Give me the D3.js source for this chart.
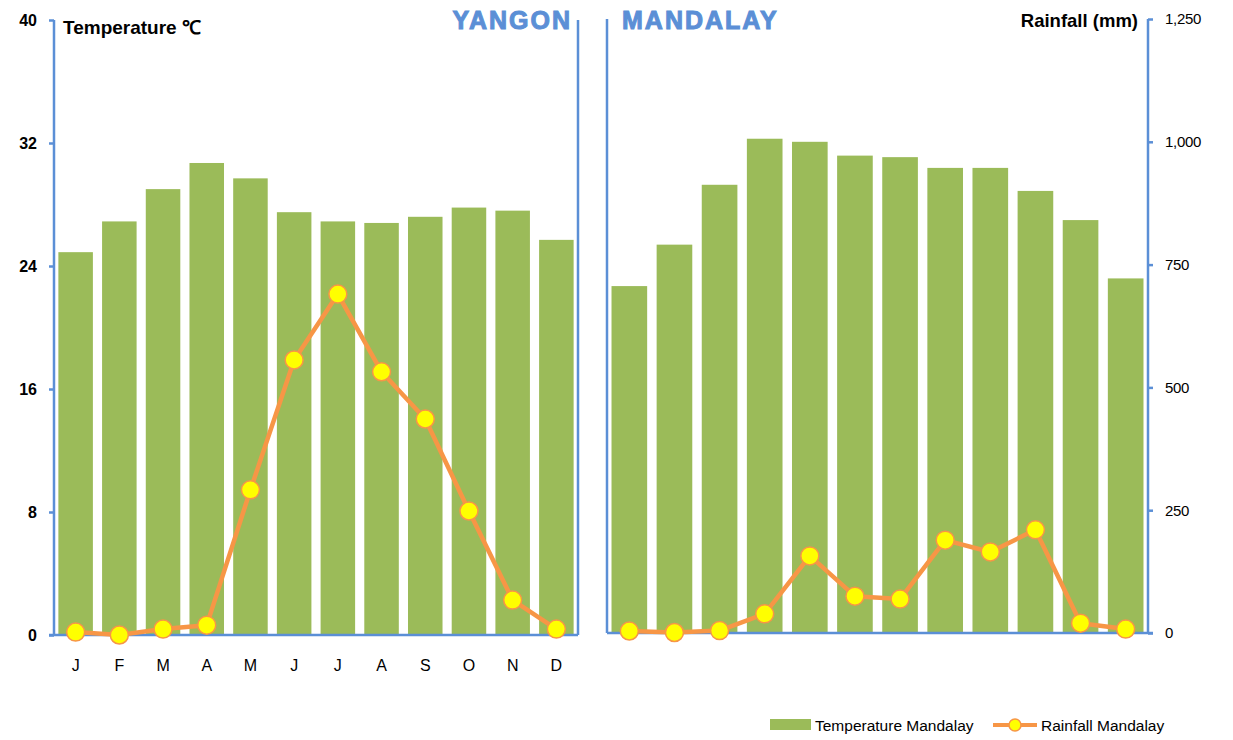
<!DOCTYPE html>
<html>
<head>
<meta charset="utf-8">
<script src="https://cdn.jsdelivr.net/npm/d3@7"></script>
<style>
  body { margin: 0; background: #fff; }
  svg { display: block; font-family: "Liberation Sans", Arial, sans-serif; }
</style>
</head>
<body>
<div class="container"></div>
<script>
const months = ['J', 'F', 'M', 'A', 'M', 'J', 'J', 'A', 'S', 'O', 'N', 'D'],
    tempYangon = [24.9, 26.9, 29.0, 30.7, 29.7, 27.5, 26.9, 26.8, 27.2, 27.8, 27.6, 25.7],
    rainYangon = [6, 0, 12, 20, 295, 559, 693, 535, 439, 252, 71, 12],
    tempMandalay = [22.6, 25.3, 29.2, 32.2, 32.0, 31.1, 31.0, 30.3, 30.3, 28.8, 26.9, 23.1],
    rainMandalay = [4, 1, 5, 39, 157, 75, 69, 189, 165, 210, 20, 8],
    tempTicks = [0, 8, 16, 24, 32, 40],
    rainTicks = [0, 250, 500, 750, 1000, 1250];

const W = 1233, H = 740,
    blue = '#5b8fd6', green = '#9bbb59', orange = '#f79646', yellow = '#ffff00';

const svg = d3.select('.container')
    .append('svg')
    .attr('width', W)
    .attr('height', H);

const idx = d3.range(12);

const drawPanel = (p) => {
    const x = d3.scaleBand()
        .domain(idx)
        .range([p.left, p.right])
        .paddingInner(0.21)
        .paddingOuter(0.1);

    const yT = d3.scaleLinear().domain([0, 40]).range([p.bottom, p.top]);
    const yR = d3.scaleLinear().domain([0, 1250]).range([p.bottom, p.top]);

    svg.append('g')
        .selectAll('rect')
        .data(p.temp)
        .join('rect')
        .attr('x', (d, i) => x(i))
        .attr('width', x.bandwidth())
        .attr('y', d => yT(d))
        .attr('height', d => yT(0) - yT(d))
        .attr('fill', green);

    // frame lines
    const g = svg.append('g').attr('stroke', blue).attr('stroke-width', 2.5).attr('fill', 'none');
    g.append('line').attr('x1', p.left).attr('x2', p.left).attr('y1', p.top).attr('y2', p.bottom);
    g.append('line').attr('x1', p.right).attr('x2', p.right).attr('y1', p.top).attr('y2', p.bottom);
    g.append('line').attr('x1', p.left - p.extL).attr('x2', p.right + p.extR).attr('y1', p.bottom).attr('y2', p.bottom);

    if (p.leftAxis) {
        const ax = svg.append('g')
            .attr('transform', `translate(${p.left},0)`)
            .call(d3.axisLeft(yT).tickValues(tempTicks).tickSize(5).tickPadding(12));
        ax.select('.domain').remove();
        ax.selectAll('line').attr('stroke', blue).attr('stroke-width', 2.5);
        ax.selectAll('text').attr('font-size', 16).attr('font-weight', 'bold').attr('fill', '#000');
    }
    if (p.rightAxis) {
        const ax = svg.append('g')
            .attr('transform', `translate(${p.right},0)`)
            .call(d3.axisRight(yR).tickValues(rainTicks).tickSize(5).tickPadding(12).tickFormat(d3.format(',')));
        ax.select('.domain').remove();
        ax.selectAll('line').attr('stroke', blue).attr('stroke-width', 2.5);
        ax.selectAll('text').attr('font-size', 15).attr('fill', '#000').attr('letter-spacing', -0.3);
    }
    if (p.xLabels) {
        svg.append('g')
            .selectAll('text')
            .data(months)
            .join('text')
            .attr('x', (d, i) => x(i) + x.bandwidth() / 2)
            .attr('y', p.bottom + 36)
            .attr('text-anchor', 'middle')
            .attr('font-size', 16)
            .text(d => d);
    }

    const line = d3.line()
        .x((d, i) => x(i) + x.bandwidth() / 2)
        .y(d => yR(d));

    svg.append('path')
        .datum(p.rain)
        .attr('d', line)
        .attr('fill', 'none')
        .attr('stroke', orange)
        .attr('stroke-width', 4.5)
        .attr('stroke-linejoin', 'round');

    svg.append('g')
        .selectAll('circle')
        .data(p.rain)
        .join('circle')
        .attr('cx', (d, i) => x(i) + x.bandwidth() / 2)
        .attr('cy', d => yR(d))
        .attr('r', 9)
        .attr('fill', yellow)
        .attr('stroke', orange)
        .attr('stroke-width', 1.5);
};

drawPanel({left: 54, right: 578, top: 20, bottom: 635, extL: 5, extR: 0,
    temp: tempYangon, rain: rainYangon, leftAxis: true, xLabels: true});
drawPanel({left: 607, right: 1148, top: 19, bottom: 633, extL: 0, extR: 5,
    temp: tempMandalay, rain: rainMandalay, rightAxis: true});

// titles
const title = (txt, x, anchor) => svg.append('text')
    .attr('x', x).attr('y', 29)
    .attr('text-anchor', anchor)
    .attr('font-size', 25)
    .attr('font-weight', 'bold')
    .attr('letter-spacing', 2)
    .attr('fill', blue)
    .attr('stroke', blue)
    .attr('stroke-width', 1)
    .text(txt);
title('YANGON', 572, 'end');
title('MANDALAY', 622, 'start');

svg.append('text').attr('x', 63).attr('y', 34)
    .attr('font-size', 19).attr('font-weight', 'bold').text('Temperature ℃');
svg.append('text').attr('x', 1138).attr('y', 27).attr('text-anchor', 'end')
    .attr('font-size', 18.5).attr('font-weight', 'bold').text('Rainfall (mm)');

// legend
const lg = svg.append('g').attr('font-size', 15.5);
lg.append('rect').attr('x', 770).attr('y', 719).attr('width', 41).attr('height', 11).attr('fill', green);
lg.append('text').attr('x', 815).attr('y', 731).text('Temperature Mandalay');
lg.append('line').attr('x1', 993).attr('x2', 1037).attr('y1', 725).attr('y2', 725)
    .attr('stroke', orange).attr('stroke-width', 4);
lg.append('circle').attr('cx', 1015).attr('cy', 725).attr('r', 6)
    .attr('fill', yellow).attr('stroke', orange).attr('stroke-width', 1.5);
lg.append('text').attr('x', 1041).attr('y', 731).text('Rainfall Mandalay');
</script>
</body>
</html>
